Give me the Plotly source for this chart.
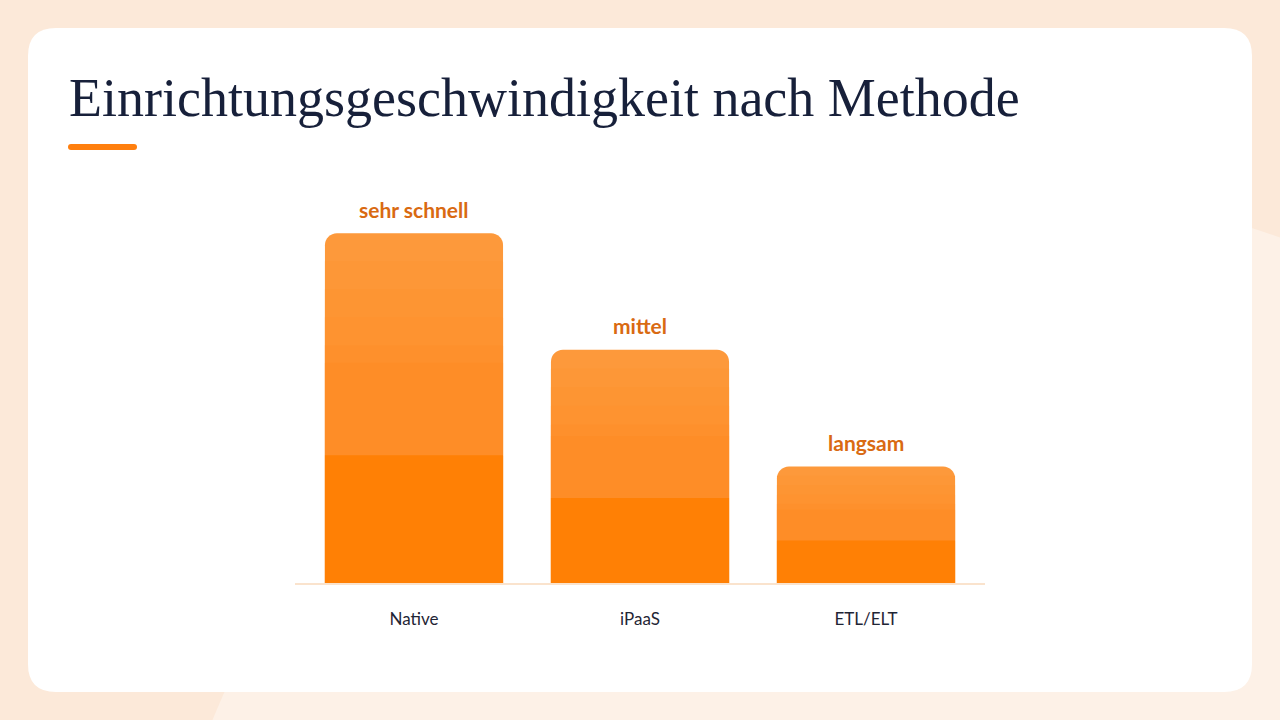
import plotly.graph_objects as go

methods = ['Native', 'iPaaS', 'ETL/ELT']
speed_score = [3, 2, 1]
speed_label = ['sehr schnell', 'mittel', 'langsam']

W, H = 1280, 720


def px(x):
    return x / W


def py(y):
    return 1 - y / H


def rounded_rect(x0, y0, x1, y1, r):
    # path in paper coords from pixel box
    return (f"M {px(x0 + r)},{py(y0)} L {px(x1 - r)},{py(y0)} Q {px(x1)},{py(y0)} {px(x1)},{py(y0 + r)} "
            f"L {px(x1)},{py(y1 - r)} Q {px(x1)},{py(y1)} {px(x1 - r)},{py(y1)} "
            f"L {px(x0 + r)},{py(y1)} Q {px(x0)},{py(y1)} {px(x0)},{py(y1 - r)} "
            f"L {px(x0)},{py(y0 + r)} Q {px(x0)},{py(y0)} {px(x0 + r)},{py(y0)} Z")


fig = go.Figure()

# gradient look: overlay layers, light on top, solid darker orange at the base
layers = [(1.0, '#fd993b', 12), (0.92, '#fd9737', 0), (0.84, '#fd9533', 0), (0.76, '#fe9330', 0),
          (0.68, '#fe902c', 0), (0.63, '#fe8d27', 0), (0.365, '#ff8005', 0)]
for frac, col, rad in layers:
    fig.add_trace(go.Bar(
        x=methods, y=[v * frac for v in speed_score],
        marker=dict(color=col, line=dict(width=0), cornerradius=rad),
        hoverinfo='skip', showlegend=False,
    ))

for m, v, t in zip(methods, speed_score, speed_label):
    fig.add_annotation(x=m, y=v, text=t, showarrow=False, yshift=24,
                       font=dict(family='Lato', size=21, color='#d96a12', weight='bold'))

shapes = [
    dict(type='circle', xref='paper', yref='paper', layer='below',
         x0=px(150), x1=px(1850), y0=py(190), y1=py(1890),
         fillcolor='#fdf1e7', line_width=0),
    dict(type='path', xref='paper', yref='paper', layer='below',
         path=rounded_rect(28, 28, 1252, 692, 28), fillcolor='white', line_width=0),
    dict(type='path', xref='paper', yref='paper',
         path=rounded_rect(68, 144, 137, 150, 3), fillcolor='#ff7f0e', line_width=0),
]

fig.add_annotation(xref='paper', yref='paper', x=px(67), y=py(98), xanchor='left', yanchor='middle',
                   text='Einrichtungsgeschwindigkeit nach Methode', showarrow=False,
                   font=dict(family='Liberation Serif', size=54, color='#17203a'))

fig.update_layout(
    width=W, height=H,
    margin=dict(l=0, r=0, t=0, b=0),
    paper_bgcolor='#fce9d9',
    plot_bgcolor='rgba(0,0,0,0)',
    barmode='overlay',
    bargap=0.212,
    shapes=shapes,
    xaxis=dict(domain=[px(295), px(985)], range=[-0.5265, 2.5265], showgrid=False, fixedrange=True,
               showline=True, linecolor='#fae3cd', linewidth=2, ticks='', ticklabelstandoff=20,
               tickfont=dict(family='Lato', size=17, color='#1f2535')),
    yaxis=dict(domain=[py(583), py(175)], range=[0, 3.5], visible=False, showgrid=False, fixedrange=True),
)

fig.write_html('out.html', config={'displayModeBar': False},
               post_script="document.body.style.margin='0';")
